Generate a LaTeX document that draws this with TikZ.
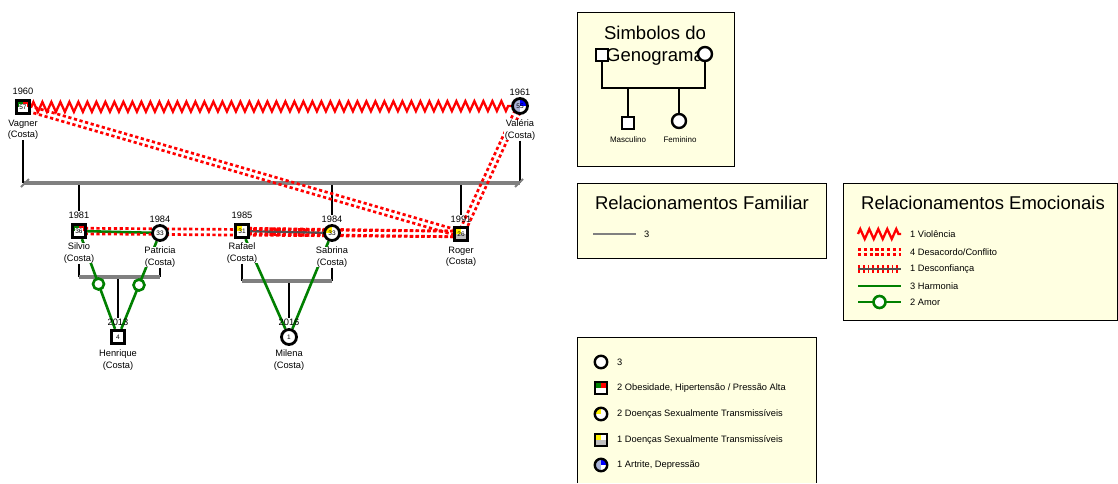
\documentclass[tikz,border=0pt]{standalone}
\usepackage{fontspec}
\setmainfont{Liberation Sans}
\usetikzlibrary{decorations.pathmorphing,calc}
\pgfdeclarelayer{bg}
\pgfsetlayers{bg,main}
\definecolor{legbg}{RGB}{255,255,225}
\definecolor{grn}{RGB}{0,128,0}
\definecolor{kin}{RGB}{128,128,128}
\definecolor{dkg}{RGB}{80,80,80}
\definecolor{artgray}{RGB}{170,180,215}
\definecolor{dstgray}{RGB}{190,190,190}
\newcommand\conflictpair[2]{%
  \draw[confl] ($(#1)!2.8pt!90:(#2)$) -- ($(#2)!2.8pt!-90:(#1)$);
  \draw[confl] ($(#1)!2.8pt!-90:(#2)$) -- ($(#2)!2.8pt!90:(#1)$);}
\newcommand\distrustline[2]{%
  \draw[red, line width=8.5pt, dash pattern=on 1.8pt off 3pt] (#1) -- (#2);
  \draw[dkg, line width=2.4pt] (#1) -- (#2);}
\begin{document}
\begin{tikzpicture}[x=1pt,y=-1pt,
  base/.style={draw=black, line width=2.8pt, fill=white, inner sep=0pt},
  male/.style={base, rectangle, minimum size=13.5pt},
  female/.style={base, circle, minimum size=15pt},
  age/.style={font=\fontsize{6.5}{6.5}\selectfont, inner sep=0.6pt},
  yr/.style={font=\fontsize{9.3}{10}\selectfont, inner sep=0.3pt},
  nm/.style={font=\fontsize{9.3}{11.5}\selectfont, align=center, inner sep=0.3pt, fill=white},
  blk/.style={black, line width=2.6pt},
  bar/.style={kin, line width=3.2pt},
  confl/.style={red, line width=2.7pt, dash pattern=on 3.2pt off 2.6pt},
  harm/.style={grn, line width=2.6pt},
  vio/.style={red, line width=2.3pt, decorate, decoration={zigzag, segment length=9pt, amplitude=5pt}},
  amor/.style={circle, draw=grn, line width=2.6pt, fill=white, minimum size=11pt, inner sep=0pt},
  legbox/.style={draw=black, line width=1pt, fill=legbg},
  ttl/.style={font=\fontsize{18.5}{21}\selectfont, inner sep=0pt, anchor=base},
  lt/.style={font=\fontsize{9.3}{10}\selectfont, anchor=west, inner sep=0pt},
  obes/.style={path picture={\fill[grn] (path picture bounding box.north west) rectangle (path picture bounding box.center); \fill[red] (path picture bounding box.north east) rectangle (path picture bounding box.center);}},
  dstc/.style={path picture={\fill[yellow] (path picture bounding box.north west) rectangle (path picture bounding box.center);}},
  dsts/.style={path picture={\fill[yellow] (path picture bounding box.north west) rectangle (path picture bounding box.center); \fill[dstgray] (path picture bounding box.west) rectangle (path picture bounding box.south east);}},
  artr/.style={path picture={\fill[artgray] (path picture bounding box.north west) rectangle (path picture bounding box.south); \fill[blue] (path picture bounding box.north east) rectangle (path picture bounding box.center);}},
]
\useasboundingbox (0,0) rectangle (1118,483);

% ---------- persons ----------
\node[male, obes] (vagner) at (23,107) {};
\node[age, fill=white] (vagnerage) at (vagner) {57};
\node[yr] (vagneryr) at (23,91) {1960};
\node[nm] (vagnername) at (23,130) {Vagner\\(Costa)};

\node[female, artr] (valeria) at (520,106) {};
\node[age] (valeriaage) at (valeria) {55};
\node[yr] (valeriayr) at (520,92) {1961};
\node[nm] (valerianame) at (520,130) {Valéria\\(Costa)};

\node[male, obes] (silvio) at (79,231) {};
\node[age, fill=white] (silvioage) at (silvio) {36};
\node[yr] (silvioyr) at (79,215) {1981};
\node[nm] (silvioname) at (79,253) {Silvio\\(Costa)};

\node[female] (patricia) at (160,233) {};
\node[age] (patriciaage) at (patricia) {33};
\node[yr] (patriciayr) at (160,219) {1984};
\node[nm] (patricianame) at (160,257) {Patricia\\(Costa)};

\node[male, dstc] (rafael) at (242,231) {};
\node[age] (rafaelage) at (rafael) {31};
\node[yr] (rafaelyr) at (242,215) {1985};
\node[nm] (rafaelname) at (242,253) {Rafael\\(Costa)};

\node[female, dstc] (sabrina) at (332,233) {};
\node[age] (sabrinaage) at (sabrina) {33};
\node[yr] (sabrinayr) at (332,219) {1984};
\node[nm] (sabrinaname) at (332,257) {Sabrina\\(Costa)};

\node[male, dsts] (roger) at (461,234) {};
\node[age] (rogerage) at (roger) {26};
\node[yr] (rogeryr) at (461,219) {1991};
\node[nm] (rogername) at (461,257) {Roger\\(Costa)};

\node[male] (henrique) at (118,337) {};
\node[age] (henriqueage) at (henrique) {4};
\node[yr] (henriqueyr) at (118,322) {2013};
\node[nm] (henriquename) at (118,360) {Henrique\\(Costa)};

\node[female] (milena) at (289,337) {};
\node[age] (milenaage) at (milena) {1};
\node[yr] (milenayr) at (289,322) {2016};
\node[nm] (milenaname) at (289,360) {Milena\\(Costa)};

\coordinate (b1l) at (24,183);
\coordinate (b1r) at (520,183);
\coordinate (b2l) at (79,277);
\coordinate (b2r) at (160,277);
\coordinate (b3l) at (242,281);
\coordinate (b3r) at (332,281);

\begin{pgfonlayer}{bg}
\fill[white] (0,0) rectangle (1118,483);
% family lines
\draw[blk] (vagnername.south) -- (vagnername.south |- b1l);
\draw[blk] (valerianame.south) -- (valerianame.south |- b1r);
\draw[blk] (silvioyr.north) -- (silvioyr.north |- b1l);
\draw[blk] (sabrinayr.north) -- (sabrinayr.north |- b1l);
\draw[blk] (rogeryr.north) -- (rogeryr.north |- b1l);
\draw[bar] (b1l) -- (b1r);
\draw[kin, line width=1.8pt] ($(b1l)+(-3,4)$) -- ($(b1l)+(5,-4)$);
\draw[kin, line width=1.8pt] ($(b1r)+(-5,4)$) -- ($(b1r)+(3,-4)$);

\draw[blk] (silvioname.south) -- (silvioname.south |- b2l);
\draw[blk] (patricianame.south) -- (patricianame.south |- b2r);
\draw[blk] (henriqueyr.north |- b2l) -- (henriqueyr.north);
\draw[bar] (b2l) -- (b2r);

\draw[blk] (rafaelname.south) -- (rafaelname.south |- b3l);
\draw[blk] (sabrinaname.south) -- (sabrinaname.south |- b3r);
\draw[blk] (milenayr.north |- b3l) -- (milenayr.north);
\draw[bar] (b3l) -- (b3r);

% emotional relations
\draw[harm] (silvio) -- (patricia);
\distrustline{rafael}{sabrina}
\draw[harm] (rafael) -- (milena);
\draw[harm] (sabrina) -- (milena);
\draw[harm] (silvio) -- node[amor] (amor1) {} (henrique);
\draw[harm] (patricia) -- node[amor] (amor2) {} (henrique);
\conflictpair{vagner}{roger}
\conflictpair{valeria}{roger}
\conflictpair{silvio}{roger}
\conflictpair{rafael}{roger}
\draw[vio] (vagner) -- (valeria);
\end{pgfonlayer}

% ---------- legend 1 ----------
\draw[legbox] (577,12) rectangle (734,166);
\node[ttl] (l1t1) at (655,39) {Simbolos do};
\node[ttl] (l1t2) at (655,61) {Genograma};
\node[male, line width=2.4pt, minimum size=12.5pt] (lsq) at (602,55) {};
\node[female, line width=2.4pt, minimum size=14pt] (lci) at (705,54) {};
\coordinate (lb) at (0,88);
\draw[blk, line width=2.4pt] (lsq.south) -- (lsq.south |- lb) -- (lci.south |- lb) -- (lci.south);
\node[male, line width=2.4pt, minimum size=12.5pt] (lmas) at (628,123) {};
\node[female, line width=2.4pt, minimum size=14pt] (lfem) at (679,121) {};
\draw[blk, line width=2.4pt] (lmas.north) -- (lmas.north |- lb);
\draw[blk, line width=2.4pt] (lfem.north) -- (lfem.north |- lb);
\node[font=\fontsize{8}{9}\selectfont, inner sep=0pt] (lmast) at (628,140) {Masculino};
\node[font=\fontsize{8}{9}\selectfont, inner sep=0pt] (lfemt) at (680,140) {Feminino};

% ---------- legend 2 ----------
\draw[legbox] (577,183) rectangle (826,258);
\node[ttl] (l2t) at (702,209) {Relacionamentos Familiar};
\coordinate (l2a) at (593,234);
\coordinate (l2b) at (636,234);
\draw[kin, line width=2.8pt] (l2a) -- (l2b);
\node[lt] (l2n) at (644,234) {3};

% ---------- legend 3 ----------
\draw[legbox] (843,183) rectangle (1117,320);
\node[ttl] (l3t) at (983,209) {Relacionamentos Emocionais};
\coordinate (v1) at (858,234); \coordinate (v2) at (901,234);
\draw[vio] (v1) -- (v2);
\node[lt] (l3r1) at (910,234) {1 Violência};
\coordinate (c1) at (858,252); \coordinate (c2) at (901,252);
\conflictpair{c1}{c2}
\node[lt] (l3r2) at (910,252) {4 Desacordo/Conflito};
\coordinate (d1) at (858,269); \coordinate (d2) at (901,269);
\distrustline{d1}{d2}
\node[lt] (l3r3) at (910,269) {1 Desconfiança};
\coordinate (h1) at (858,286); \coordinate (h2) at (901,286);
\draw[harm] (h1) -- (h2);
\node[lt] (l3r4) at (910,286) {3 Harmonia};
\coordinate (a1) at (858,302); \coordinate (a2) at (901,302);
\draw[harm] (a1) -- node[amor, minimum size=12pt] (l3amor) {} (a2);
\node[lt] (l3r5) at (910,302) {2 Amor};

% ---------- legend 4 ----------
\fill[legbg] (577,337) rectangle (816,483);
\draw[black, line width=1pt] (577,483) -- (577,337) -- (816,337) -- (816,483);
\node[female, line width=2.4pt, minimum size=12.5pt] (i1) at (601,362) {};
\node[lt] (t1) at (617,362) {3};
\node[male, obes, line width=2.4pt, minimum size=11.5pt] (i2) at (601,388) {};
\node[lt] (t2) at (617,388) {2 Obesidade, Hipertensão / Pressão Alta};
\node[female, dstc, line width=2.4pt, minimum size=12.5pt] (i3) at (601,414) {};
\node[lt] (t3) at (617,414) {2 Doenças Sexualmente Transmissíveis};
\node[male, dsts, line width=2.4pt, minimum size=11.5pt] (i4) at (601,440) {};
\node[lt] (t4) at (617,440) {1 Doenças Sexualmente Transmissíveis};
\node[female, artr, line width=2.4pt, minimum size=12.5pt] (i5) at (601,465) {};
\node[lt] (t5) at (617,465) {1 Artrite, Depressão};
\end{tikzpicture}
\end{document}
